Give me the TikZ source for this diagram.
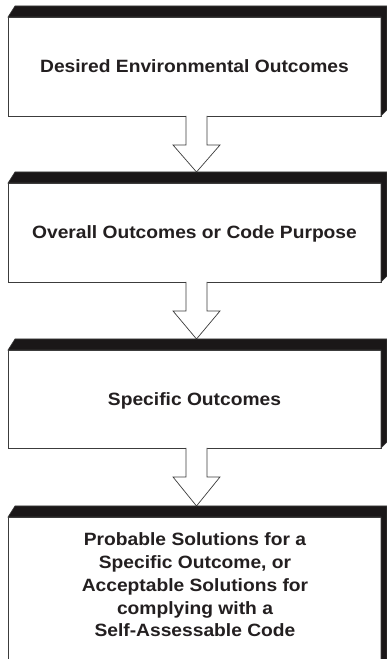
\documentclass[tikz,border=0pt]{standalone}
\usepackage{fontspec}
\setmainfont{Liberation Sans}[FakeStretch=1.08]
\usepackage{tikz}
\definecolor{Banda}{HTML}{1A1718}
\definecolor{Borde}{HTML}{3C3C3C}
\definecolor{Texto}{HTML}{231F20}

\begin{document}
\begin{tikzpicture}[
  x=1pt,y=1pt,
  font=\fontsize{17.8}{22.7}\selectfont\bfseries,
  caja/.style={draw=Borde,line width=0.8pt,fill=white,minimum width=373pt,inner sep=0pt,outer sep=0pt,align=center,text=Texto,text depth=0pt},
  banda/.style={fill=Banda,draw=Borde,line width=0.6pt},
  hueca/.style={draw=Borde,line width=0.7pt,fill=white}
]
  \useasboundingbox (0,0) rectangle (387,659);
  \clip (0,0) rectangle (387,659);

  \node[caja,minimum height=99pt] (deseados) at (194.5,592.5)
    {Desired Environmental Outcomes};
  \node[caja,minimum height=99pt] (globales) at (194.5,426.5)
    {Overall Outcomes or Code Purpose};
  \node[caja,minimum height=98pt] (especificos) at (194.5,260)
    {Specific Outcomes};
  \node[caja,minimum height=162pt,anchor=north] (soluciones) at (194.5,142) {};
  \node[align=center,text=Texto] (textosol) at (195,74)
    {Probable Solutions for a\\Specific Outcome, or\\Acceptable Solutions for\\complying with a\\Self-Assessable Code};

  % bandas negras arriba y a la derecha
  \foreach \n in {deseados,globales,especificos,soluciones}
    \path[banda] (\n.north west) -- ++(7,11) -- ([shift={(6,11)}]\n.north east)
      -- ([shift={(6,6)}]\n.south east) -- (\n.south east) -- (\n.north east) -- cycle;

  % flechas huecas
  \foreach \a/\b in {deseados/globales,globales/especificos,especificos/soluciones}
    \draw[hueca] ([xshift=-8.5]\a.south) |- ([shift={(-21.5,-29)}]\a.south)
      -- ([shift={(2,11)}]\b.north) -- ([shift={(25.5,-29)}]\a.south)
      -| ([xshift=12.5]\a.south);
\end{tikzpicture}
\end{document}
